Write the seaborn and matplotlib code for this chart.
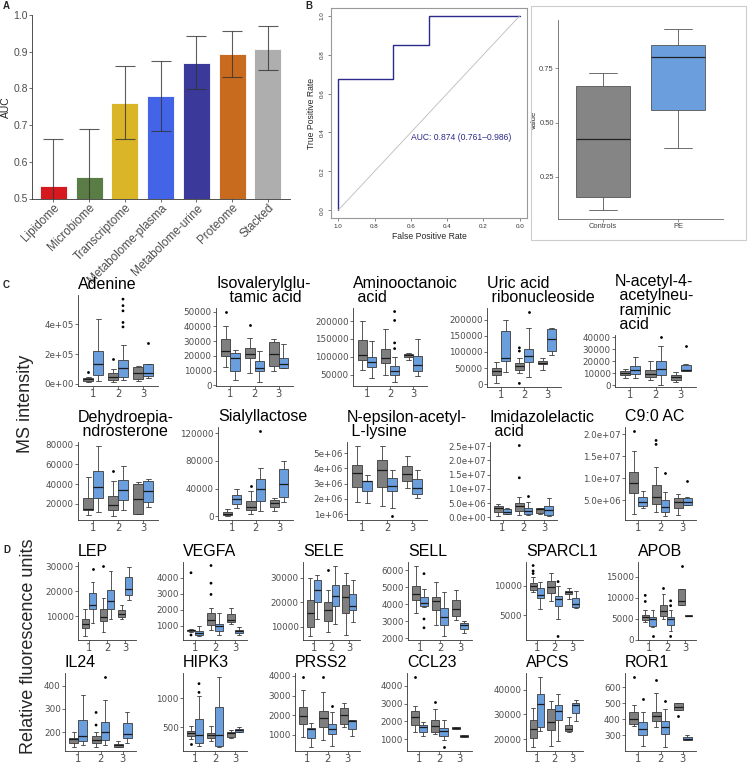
import numpy as np
import pandas as pd
import matplotlib
matplotlib.use("Agg")
import matplotlib.pyplot as plt
import seaborn as sns

W, H = 748, 765

# ---------------- panel A: AUC per omics layer
omics = ["Lipidome", "Microbiome", "Transcriptome", "Metabolome-plasma",
         "Metabolome-urine", "Proteome", "Stacked"]
auc = [0.534, 0.558, 0.760, 0.778, 0.870, 0.893, 0.908]
auc_lo = [0.41, 0.43, 0.662, 0.684, 0.799, 0.831, 0.850]
auc_hi = [0.662, 0.689, 0.861, 0.874, 0.943, 0.957, 0.970]
omics_colors = ["#D5191E", "#5A7C45", "#DAB528", "#4464E8", "#3B3A9B", "#C96B1F", "#AEAEAE"]

# ---------------- panel B: ROC + score boxplot
roc_spec = [1.0, 1.0, 0.70, 0.70, 0.50, 0.50, 0.0]
roc_sens = [0.0, 0.675, 0.675, 0.85, 0.85, 1.0, 1.0]
score_controls = [0.098, 0.158, 0.425, 0.669, 0.729]
score_pe = [0.383, 0.559, 0.803, 0.858, 0.931]

# ---------------- panels C/D: box stats [low, q1, median, q3, high]
# order: (1, ctrl), (1, PE), (2, ctrl), (2, PE), (3, ctrl), (3, PE)
adenine = [[13000, 20000, 30000, 39000, 46000], [20000, 59000, 133000, 222000, 433000],
           [15000, 24000, 48000, 74000, 100000], [24000, 48000, 107000, 160000, 259000],
           [20000, 35000, 74000, 113000, 117000], [41000, 52000, 70000, 133000, 133000]]
adenine_out = [(1, "C", 80000), (2, "C", 167000), (2, "P", 570000), (2, "P", 526000),
               (2, "P", 491000), (2, "P", 413000), (2, "P", 383000), (3, "P", 276000)]
isoval = [[12300, 19900, 23000, 31300, 40400], [3900, 10000, 18800, 22200, 24000],
          [8500, 18800, 21000, 25600, 31800], [1900, 9600, 11900, 16400, 23300],
          [10000, 13000, 21500, 29500, 31500], [11500, 11900, 14200, 18800, 27900]]
isoval_out = [(1, "C", 50000), (2, "C", 41000)]
amino = [[62000, 92000, 104000, 148000, 200000], [41000, 70000, 85000, 100000, 145000],
         [48000, 82000, 98000, 123000, 177000], [28000, 50000, 59000, 73000, 100000],
         [92000, 100000, 104000, 107000, 110000], [45000, 59000, 77000, 101000, 150000]]
amino_out = [(2, "P", 202000), (2, "P", 227000), (2, "P", 123000), (2, "P", 139000)]
uric = [[2000, 28000, 41500, 49000, 70000], [38000, 72000, 82000, 166000, 200000],
        [33000, 44000, 57000, 65000, 82000], [23000, 70000, 87000, 109000, 174000],
        [44000, 62000, 67000, 72000, 80000], [91000, 103000, 141000, 171000, 175000]]
uric_out = [(2, "C", 2000), (2, "C", 103000), (2, "C", 113000), (2, "P", 226000)]
nacetyl = [[6200, 8300, 10000, 11700, 13900], [6200, 9500, 13000, 15800, 24000],
           [4000, 6700, 9500, 13000, 20000], [500, 8300, 13900, 20600, 33000],
           [2500, 4700, 6700, 8300, 11200], [11500, 11700, 12500, 17200, 17500]]
nacetyl_out = [(2, "P", 40000), (3, "P", 33000)]
dhea = [[8900, 13900, 14600, 26000, 47000], [12200, 26000, 37000, 53000, 79000],
        [7300, 13900, 18800, 28000, 43600], [13900, 23800, 33700, 44000, 58400],
        [9600, 9600, 24500, 40300, 41900], [17100, 22100, 32700, 43600, 45200]]
dhea_out = [(2, "C", 52800)]
sialyl = [[500, 1500, 3000, 6400, 9700], [11200, 18000, 24200, 30000, 38700],
          [2500, 8300, 13000, 21700, 36200], [7200, 21700, 38700, 53200, 69000],
          [7200, 13000, 19400, 22700, 25600], [20900, 27500, 47000, 67700, 79700]]
sialyl_out = [(2, "C", 43500), (2, "P", 123000)]
neps = [[1.82e6, 2.78e6, 3.7e6, 4.24e6, 5.46e6], [1.7e6, 2.5e6, 3.15e6, 3.17e6, 3.6e6],
        [1.56e6, 2.78e6, 3.91e6, 4.54e6, 5.5e6], [1.39e6, 2.5e6, 2.85e6, 3.39e6, 3.91e6],
        [2.74e6, 3.15e6, 3.63e6, 4.17e6, 4.82e6], [2.04e6, 2.35e6, 2.74e6, 3.28e6, 3.9e6]]
neps_out = [(2, "P", 0.85e6)]
imid = [[0.34e6, 1.83e6, 3.2e6, 4.13e6, 4.6e6], [1.15e6, 1.26e6, 1.83e6, 2.98e6, 3.44e6],
        [0.7e6, 2.29e6, 4.13e6, 5.16e6, 7.2e6], [0.7e6, 1.15e6, 2.29e6, 3.44e6, 5.5e6],
        [1.15e6, 1.5e6, 2.87e6, 3.2e6, 3.44e6], [0.34e6, 0.7e6, 2.52e6, 4.13e6, 6.65e6]]
imid_out = [(2, "C", 2.52e7), (2, "C", 1.39e7), (2, "P", 7.6e6)]
c9 = [[1.74e6, 6.74e6, 8.94e6, 1.13e7, 1.62e7], [3.1e6, 3.71e6, 4.62e6, 5.76e6, 7.05e6],
      [2.35e6, 4.09e6, 5.76e6, 8.56e6, 1.26e7], [1.44e6, 2.2e6, 3.33e6, 5.0e6, 6.9e6],
      [1.6e6, 3.1e6, 4.62e6, 5.38e6, 6.29e6], [3.86e6, 3.86e6, 4.62e6, 5.38e6, 5.76e6]]
c9_out = [(1, "C", 2.07e7), (2, "C", 1.86e7), (2, "C", 1.77e7), (2, "P", 1.12e7), (3, "P", 9.3e6)]

lep = [[1900, 5350, 6750, 8900, 12700], [7300, 12700, 14300, 19100, 23600],
       [3570, 7900, 9550, 12700, 17200], [8700, 13000, 16200, 20400, 28000],
       [8700, 9550, 10800, 12400, 14600], [16300, 18500, 21000, 25500, 29600]]
lep_out = [(1, "P", 28900), (2, "C", 30200)]
vegfa = [[600, 680, 720, 760, 800], [330, 450, 550, 650, 1000],
         [750, 1050, 1350, 1800, 2100], [450, 650, 1000, 1100, 1800],
         [1100, 1200, 1350, 1700, 2100], [400, 550, 650, 750, 950]]
vegfa_out = [(1, "C", 4300), (1, "C", 420), (2, "C", 2950), (2, "C", 3650), (2, "C", 4750)]
sele = [[6000, 10000, 15500, 21000, 30000], [13000, 20000, 25000, 29000, 31000],
        [8000, 12500, 17000, 20000, 25000], [11000, 18500, 22500, 27000, 35000],
        [6500, 15500, 22000, 27000, 32000], [12000, 17000, 18500, 23500, 29000]]
sele_out = [(2, "C", 33000)]
sell = [[3470, 4240, 4620, 5100, 6280], [3850, 3890, 4080, 4430, 4900],
        [2800, 3660, 4180, 4430, 5290], [2100, 2800, 3240, 3760, 4720],
        [3090, 3280, 3720, 4240, 4810], [2330, 2550, 2800, 2900, 3000]]
sell_out = [(1, "P", 5800), (1, "P", 3130), (1, "P", 2610)]
sparcl1 = [[8870, 9300, 9950, 10480, 11450], [6080, 7960, 8490, 9570, 10650],
           [7420, 8760, 9730, 10750, 12100], [4460, 6610, 7690, 8230, 9840],
           [7800, 8660, 8920, 9140, 9570], [6180, 6340, 6880, 7960, 9030]]
sparcl1_out = [(1, "C", 13330), (1, "C", 12420), (1, "C", 12000), (2, "P", 10650), (2, "P", 1500)]
apob = [[4220, 4690, 5470, 6020, 7190], [3130, 3280, 4840, 5470, 7190],
        [5000, 5780, 6800, 8360, 11000], [2110, 3440, 4840, 5470, 7190],
        [8200, 8360, 9300, 12030, 12030], [5600, 5650, 5780, 5900, 6000]]
apob_out = [(1, "C", 10600), (1, "C", 9140), (1, "P", 780), (2, "C", 12400),
            (2, "P", 9300), (2, "P", 8130), (2, "P", 780), (3, "C", 17730)]
il24 = [[135, 154, 172, 175, 200], [146, 163, 182, 252, 362],
        [135, 154, 165, 182, 203], [146, 165, 203, 245, 337],
        [135, 139, 144, 149, 161], [156, 175, 193, 238, 285]]
il24_out = [(2, "C", 285), (2, "C", 231), (2, "P", 439)]
hipk3 = [[300, 355, 392, 430, 516], [170, 230, 366, 634, 1038],
         [258, 312, 366, 403, 527], [150, 177, 366, 849, 1376],
         [312, 323, 392, 420, 446], [409, 420, 446, 473, 500]]
hipk3_out = [(1, "C", 215), (1, "P", 1253), (1, "P", 1102)]
prss2 = [[885, 1540, 1950, 2440, 3300], [360, 850, 1300, 1340, 1590],
         [750, 1410, 1840, 2230, 3180], [430, 1050, 1300, 1570, 2160],
         [1410, 1570, 2000, 2360, 2640], [920, 1300, 1700, 1750, 1750]]
prss2_out = [(1, "C", 3970), (2, "C", 3970), (2, "P", 2475)]
ccl23 = [[1390, 1800, 2230, 2580, 2850], [1180, 1390, 1690, 1830, 1980],
         [1300, 1440, 1750, 2070, 2670], [980, 1210, 1480, 1620, 2100],
         [1570, 1570, 1620, 1690, 1690], [1160, 1160, 1210, 1250, 1250]]
ccl23_out = [(1, "C", 4500), (2, "C", 3110), (2, "P", 556)]
apcs = [[16730, 20650, 24310, 27580, 32680], [23270, 24840, 34250, 38300, 45230],
        [17120, 23920, 26930, 32160, 35290], [19350, 27840, 31500, 33730, 38300],
        [23000, 23530, 24310, 25880, 29150], [27450, 30460, 33990, 34770, 35690]]
apcs_out = []
ror1 = [[357, 371, 403, 448, 489], [235, 302, 337, 383, 444],
        [351, 391, 418, 448, 566], [225, 306, 351, 387, 464],
        [458, 458, 478, 499, 499], [270, 270, 280, 290, 300]]
ror1_out = [(1, "C", 665), (1, "P", 523), (2, "C", 641), (2, "P", 513), (3, "C", 418)]

GRAY = "#7F7F7F"
BLUE = "#6A9EDC"
TXT = "#4D4D4D"

sns.set_style("ticks")
plt.rcParams["font.family"] = ["Liberation Sans", "DejaVu Sans"]


def rect(l, t, r, b):
    return [l / W, 1 - b / H, (r - l) / W, (b - t) / H]


fig = plt.figure(figsize=(W / 100, H / 100), dpi=100)


def style_axis(ax, ysize=5.2, xsize=7.5):
    sns.despine(ax=ax)
    for s in ("left", "bottom"):
        ax.spines[s].set_color("#333333")
        ax.spines[s].set_linewidth(0.6)
    ax.tick_params(axis="y", labelsize=ysize, length=2, width=0.5, pad=1,
                   color="#333333", labelcolor=TXT)
    ax.tick_params(axis="x", labelsize=xsize, length=2, width=0.5, pad=0.5,
                   color="#333333", labelcolor=TXT)


def draw_box_panel(pos, title, boxes, outs, ticks, fmt):
    ax = fig.add_axes(rect(*pos))
    rows = []
    for i, stats in enumerate(boxes):
        for v in stats:
            rows.append({"tp": str(i // 2 + 1), "grp": "CP"[i % 2], "val": v})
    df = pd.DataFrame(rows)
    sns.boxplot(data=df, x="tp", y="val", hue="grp", order=["1", "2", "3"],
                hue_order=["C", "P"], palette={"C": GRAY, "P": BLUE}, saturation=1,
                whis=np.inf, width=0.8, linewidth=0.6, linecolor="#3A3A3A",
                medianprops={"color": "#1A1A1A", "linewidth": 0.9},
                legend=False, ax=ax)
    if outs:
        dfo = pd.DataFrame(outs, columns=["tp", "grp", "val"])
        dfo["tp"] = dfo["tp"].astype(str)
        sns.stripplot(data=dfo, x="tp", y="val", hue="grp", order=["1", "2", "3"],
                      hue_order=["C", "P"], palette={"C": "black", "P": "black"},
                      dodge=True, jitter=False, size=2, legend=False, ax=ax)
    allv = df["val"].tolist() + [o[2] for o in outs]
    lo, hi = min(allv), max(allv)
    pad = (hi - lo) * 0.05
    ax.set_ylim(lo - pad, hi + pad)
    ax.set_xlim(-0.6, 2.6)
    ax.set_yticks(ticks)
    ax.set_yticklabels([fmt.format(t) for t in ticks])
    ax.set_xlabel("")
    ax.set_ylabel("")
    style_axis(ax, ysize=6.3, xsize=7.2)
    for lab in ax.get_yticklabels() + ax.get_xticklabels():
        lab.set_fontfamily("DejaVu Sans")
    # title: one text per line, stacked upward from the panel top
    for k, line in enumerate(reversed(title.split("\n"))):
        ax.annotate(line, xy=(0, 1), xycoords="axes fraction",
                    xytext=(0, 2 + k * 10.4), textcoords="offset points",
                    ha="left", va="bottom", fontsize=11.5, color="black")
    return ax


# ---------------- Panel A
axA = fig.add_axes(rect(32, 15, 290, 198.5))
sns.barplot(x=omics, y=auc, hue=omics, palette=omics_colors, legend=False, saturation=1,
            width=0.76, edgecolor="white", linewidth=0.6, ax=axA)
err = [np.array(auc) - np.array(auc_lo), np.array(auc_hi) - np.array(auc)]
axA.errorbar(range(len(omics)), auc, yerr=err, fmt="none", ecolor="#333333",
             elinewidth=0.8, capsize=7.5, capthick=0.8, alpha=0.8)
axA.set_ylim(0.5, 1.0)
axA.set_xlim(-0.6, 6.62)
axA.set_yticks([0.5, 0.6, 0.7, 0.8, 0.9, 1.0])
axA.set_ylabel("AUC", fontsize=7.5, labelpad=2)
style_axis(axA, ysize=7.5, xsize=8.5)
axA.set_xticks(range(len(omics)))
axA.set_xticklabels(omics, rotation=45, ha="right", rotation_mode="anchor")

# ---------------- Panel B: ROC
axR = fig.add_axes(rect(331, 8, 527, 218))
sns.lineplot(x=roc_spec, y=roc_sens, sort=False, estimator=None,
             color="#2D2A8C", linewidth=1.0, ax=axR)
axR.plot([1, 0], [0, 1], color="#BBBBBB", linewidth=0.6)
axR.set_xlim(1.04, -0.04)
axR.set_ylim(-0.04, 1.04)
axR.set_xticks([1.0, 0.8, 0.6, 0.4, 0.2, 0.0])
axR.set_yticks([0.0, 0.2, 0.4, 0.6, 0.8, 1.0])
axR.set_xticklabels(["1.0", "0.8", "0.6", "0.4", "0.2", "0.0"])
axR.set_yticklabels(["0.0", "0.2", "0.4", "0.6", "0.8", "1.0"], rotation=90, va="center")
axR.tick_params(labelsize=4.5, length=2.5, width=0.5, pad=2, color="#555555", labelcolor="#333333")
for s in axR.spines.values():
    s.set_color("#999999")
    s.set_linewidth(0.8)
axR.set_xlabel("False Positive Rate", fontsize=6.2, labelpad=2)
axR.set_ylabel("True Positive Rate", fontsize=6.2, labelpad=3)
axR.text(0.60, 0.375, "AUC: 0.874 (0.761\u20130.986)", fontsize=6.2, color="#2D2A8C",
         ha="left", va="center")

# ---------------- Panel B: score boxplot
fig.add_artist(plt.Rectangle((531 / W, 1 - 240 / H), (746 - 531) / W, (240 - 6) / H,
                             fill=False, ec="#CCCCCC", lw=0.8, transform=fig.transFigure))
axS = fig.add_axes(rect(558, 20, 723, 219))
score_df = pd.DataFrame({"group": ["Controls"] * 5 + ["PE"] * 5,
                         "value": score_controls + score_pe})
sns.boxplot(data=score_df, x="group", y="value", hue="group", saturation=1,
            palette={"Controls": "#858585", "PE": "#6A9EDD"}, whis=np.inf,
            width=0.73, linewidth=0.6, linecolor="#555555",
            medianprops={"color": "#222222", "linewidth": 0.9}, legend=False, ax=axS)
axS.set_xlim(-0.6, 1.6)
axS.set_ylim(0.056, 0.972)
axS.set_yticks([0.25, 0.5, 0.75])
axS.set_yticklabels(["0.25", "0.50", "0.75"])
sns.despine(ax=axS)
for s in ("left", "bottom"):
    axS.spines[s].set_color("#666666")
    axS.spines[s].set_linewidth(0.6)
axS.tick_params(labelsize=5.4, length=2, width=0.5, pad=1, color="#666666", labelcolor="#444444")
axS.set_xlabel("")
axS.set_ylabel("value", fontsize=5.4, labelpad=1)

# ---------------- Panel C
e0 = "{:.0e}"
e1 = "{:.1e}"
f0 = "{:.0f}"
draw_box_panel((78, 295, 158, 386), "Adenine", adenine, adenine_out, [0, 2e5, 4e5], e0)
draw_box_panel((216, 308, 293, 386), "Isovalerylglu-\n   tamic acid", isoval, isoval_out,
               [0, 10000, 20000, 30000, 40000, 50000], f0)
draw_box_panel((353, 308, 427, 386), "Aminooctanoic\n acid", amino, amino_out,
               [50000, 100000, 150000, 200000], f0)
draw_box_panel((487, 308, 561, 387), "Uric acid\n ribonucleoside", uric, uric_out,
               [0, 50000, 100000, 150000, 200000], f0)
draw_box_panel((615, 335, 696, 387), "N-acetyl-4-\n acetylneu-\n raminic\n acid", nacetyl, nacetyl_out,
               [0, 10000, 20000, 30000, 40000], f0)
draw_box_panel((78, 442, 158, 520), "Dehydroepia-\n ndrosterone", dhea, dhea_out,
               [20000, 40000, 60000, 80000], f0)
draw_box_panel((218, 427, 293, 520), "Sialyllactose", sialyl, sialyl_out,
               [0, 40000, 80000, 120000], f0)
draw_box_panel((347, 442, 427, 520), "N-epsilon-acetyl-\n L-lysine", neps, neps_out,
               [1e6, 2e6, 3e6, 4e6, 5e6], e0)
draw_box_panel((490, 442, 557, 520), "Imidazolelactic\n acid", imid, imid_out,
               [0, 5e6, 1e7, 1.5e7, 2e7, 2.5e7], e1)
draw_box_panel((625, 427, 696, 520), "C9:0 AC", c9, c9_out,
               [5e6, 1e7, 1.5e7, 2e7], e1)

# ---------------- Panel D
draw_box_panel((78, 562, 136, 640), "LEP", lep, lep_out, [10000, 20000, 30000], f0)
draw_box_panel((183, 562, 247, 640), "VEGFA", vegfa, vegfa_out, [1000, 2000, 3000, 4000], f0)
draw_box_panel((303, 562, 360, 640), "SELE", sele, sele_out, [10000, 20000, 30000], f0)
draw_box_panel((408, 562, 472, 640), "SELL", sell, sell_out, [2000, 3000, 4000, 5000, 6000], f0)
draw_box_panel((526, 562, 583, 640), "SPARCL1", sparcl1, sparcl1_out, [5000, 10000], f0)
draw_box_panel((638, 562, 696, 640), "APOB", apob, apob_out, [0, 5000, 10000, 15000], f0)
draw_box_panel((65, 673, 136, 751), "IL24", il24, il24_out, [200, 300, 400], f0)
draw_box_panel((183, 673, 247, 751), "HIPK3", hipk3, hipk3_out, [500, 1000], f0)
draw_box_panel((295, 673, 360, 751), "PRSS2", prss2, prss2_out, [1000, 2000, 3000, 4000], f0)
draw_box_panel((407, 673, 472, 751), "CCL23", ccl23, ccl23_out, [1000, 2000, 3000, 4000], f0)
draw_box_panel((526, 673, 583, 751), "APCS", apcs, apcs_out, [20000, 30000, 40000], f0)
draw_box_panel((625, 673, 696, 751), "ROR1", ror1, ror1_out, [300, 400, 500, 600], f0)

# shared axis labels and panel letters
fig.text(25 / W, 1 - 404 / H, "MS intensity", rotation=90, fontsize=13, ha="center", va="center")
fig.text(29 / W, 1 - 646 / H, "Relative fluorescence units", rotation=90, fontsize=13,
         ha="center", va="center")
for letter, x, y in [("A", 3, 6), ("B", 305, 6), ("C", 3, 285), ("D", 3, 550)]:
    fig.text(x / W, 1 - y / H, letter, fontsize=7, fontweight="bold", ha="left", va="center")

fig.savefig("out.png", dpi=100)
